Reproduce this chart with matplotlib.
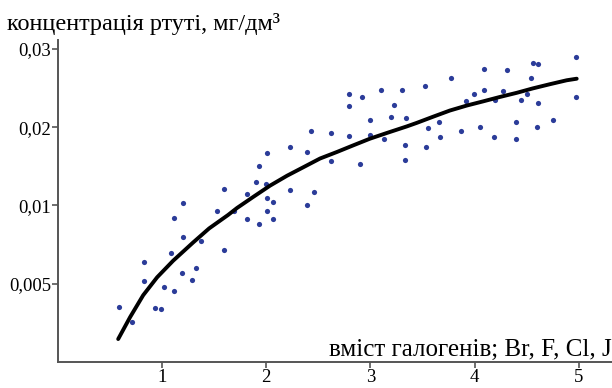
import matplotlib
matplotlib.use("Agg")
import matplotlib.pyplot as plt

# scatter data (x: halogen content, y: mercury concentration in axis units)
x_pts = [0.588, 0.712, 0.827, 0.827, 0.933, 0.990, 1.019, 1.086, 1.115, 1.192,
         1.288, 1.326, 1.374, 1.595, 1.115, 1.201, 1.201, 1.528, 1.595, 1.691,
         1.815, 1.815, 1.902, 1.930, 1.930, 1.997, 2.007, 2.007, 2.007, 2.065,
         2.065, 2.228, 2.228, 2.391, 2.391, 2.429, 2.458, 2.621, 2.621, 2.794,
         2.794, 2.794, 2.899, 2.919, 2.995, 2.995, 3.101, 3.130, 3.197, 3.226,
         3.302, 3.331, 3.331, 3.340, 3.523, 3.532, 3.551, 3.657, 3.667, 3.772,
         3.868, 3.916, 3.993, 4.051, 4.089, 4.089, 4.185, 4.194, 4.271, 4.309,
         4.396, 4.396, 4.444, 4.501, 4.540, 4.559, 4.597, 4.607, 4.607, 4.751,
         4.972, 4.972]
y_pts = [0.00527, 0.00383, 0.00958, 0.00776, 0.00518, 0.00508, 0.00719, 0.01045, 0.00681, 0.00853,
         0.00786, 0.00901, 0.01160, 0.01073, 0.01380, 0.01524, 0.01198, 0.01447, 0.01658, 0.01447,
         0.01610, 0.01371, 0.01725, 0.01879, 0.01323, 0.01706, 0.02003, 0.01572, 0.01447, 0.01534,
         0.01371, 0.02061, 0.01649, 0.02013, 0.01505, 0.02214, 0.01629, 0.02195, 0.01927, 0.02569,
         0.02454, 0.02166, 0.01898, 0.02540, 0.02320, 0.02176, 0.02607, 0.02137, 0.02348, 0.02463,
         0.02607, 0.02080, 0.01936, 0.02339, 0.02645, 0.02061, 0.02243, 0.02300, 0.02157, 0.02722,
         0.02214, 0.02502, 0.02569, 0.02252, 0.02808, 0.02607, 0.02157, 0.02511, 0.02597, 0.02799,
         0.02300, 0.02137, 0.02511, 0.02569, 0.02722, 0.02866, 0.02252, 0.02856, 0.02482, 0.02320,
         0.02923, 0.02540]

# trend line
trend_x = [0.578, 0.693, 0.818, 0.952, 1.105, 1.297, 1.451, 1.633, 1.719, 1.873,
           2.036, 2.199, 2.353, 2.516, 2.679, 2.832, 2.995, 3.158, 3.350, 3.446,
           3.600, 3.763, 3.926, 4.079, 4.243, 4.406, 4.559, 4.722, 4.885, 4.981]
trend_y = [0.00220, 0.00431, 0.00640, 0.00812, 0.00970, 0.01145, 0.01280, 0.01409, 0.01476, 0.01581,
           0.01690, 0.01785, 0.01865, 0.01950, 0.02013, 0.02075, 0.02140, 0.02195, 0.02258, 0.02292,
           0.02350, 0.02410, 0.02458, 0.02497, 0.02540, 0.02580, 0.02622, 0.02662, 0.02700, 0.02715]

x_ticks = [1, 2, 3, 4, 5]
y_tick_pos = [0.0075, 0.015, 0.0225, 0.03]
y_tick_labels = ["0,005", "0,01", "0,02", "0,03"]

title = "концентрація ртуті, мг/дм³"
xlabel = "вміст галогенів; Br, F, Cl, J"

plt.rcParams['font.family'] = ['Liberation Serif', 'DejaVu Serif']

fig = plt.figure(figsize=(6.12, 3.88), dpi=100)
ax = fig.add_axes([58/612, 26/388, 554/612, 322/388])

ax.scatter(x_pts, y_pts, s=14, marker='o', color='#2B3C99', linewidths=0, zorder=2)
ax.plot(trend_x, trend_y, color='black', lw=2.8, zorder=3,
        solid_capstyle='round', solid_joinstyle='round')

ax.set_xlim(0, 5.32)
ax.set_ylim(0, 0.03086)
ax.set_xticks(x_ticks)
ax.set_xticklabels([str(t) for t in x_ticks])
ax.set_yticks(y_tick_pos)
ax.set_yticklabels(y_tick_labels)

for s in ['top', 'right']:
    ax.spines[s].set_visible(False)
for s in ['left', 'bottom']:
    ax.spines[s].set_color('#555555')
    ax.spines[s].set_linewidth(1.4)

ax.tick_params(axis='both', colors='#555555', labelcolor='black', labelsize=13.5,
               length=4, width=1.2, direction='out', pad=1)

fig.text(7/612, 1 - 30/388, title, fontsize=17.5, ha='left', va='baseline')
ax.text(1.0, 0.02, xlabel, transform=ax.transAxes, fontsize=18, ha='right', va='baseline')

fig.savefig('out.png', dpi=100)
